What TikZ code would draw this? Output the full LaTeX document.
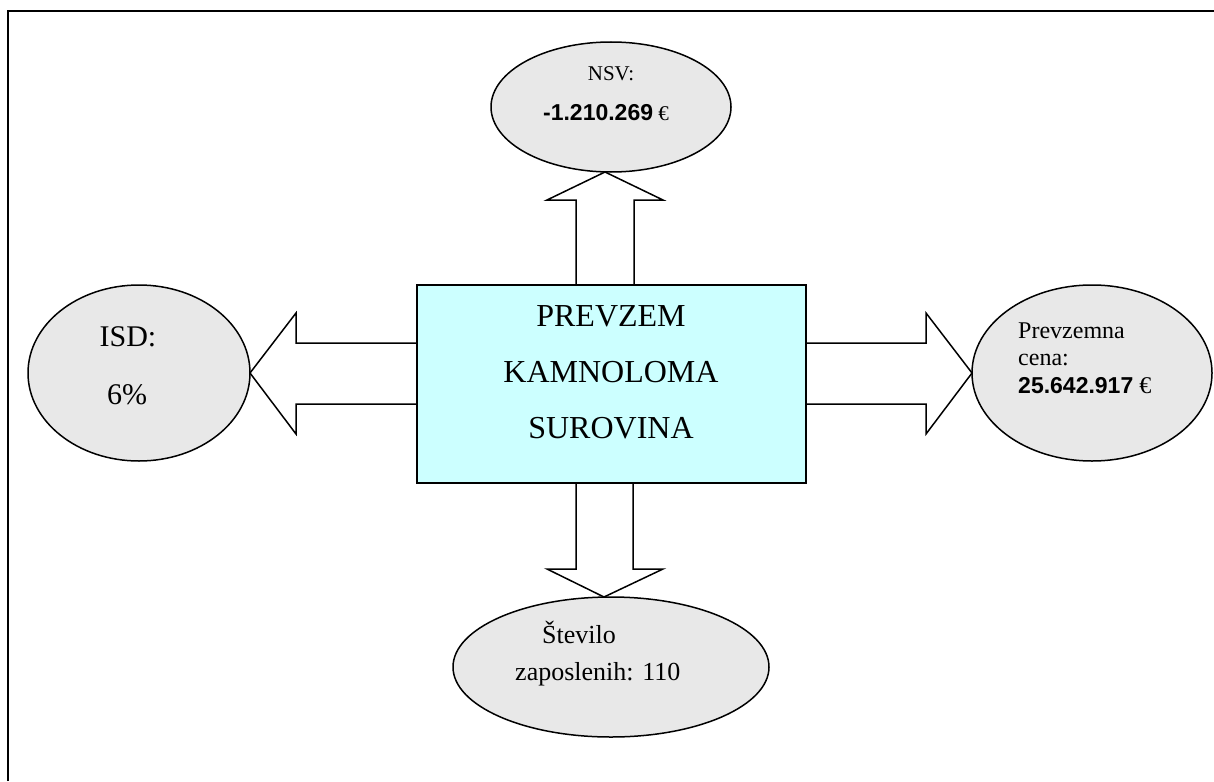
\documentclass[tikz,border=0pt]{standalone}
\usepackage{fontspec}
\setmainfont{Liberation Serif}
\newfontfamily\arialfont{Liberation Sans}
\usetikzlibrary{shapes.geometric}
\definecolor{boxcyan}{HTML}{CCFFFF}
\definecolor{ellgray}{HTML}{E8E8E8}
\begin{document}
\begin{tikzpicture}[x=1pt,y=-1pt,
  frame/.style={line width=2.2pt},
  mainbox/.style={draw=black,line width=1.8pt,fill=boxcyan,minimum width=389pt,minimum height=198pt,inner sep=0pt},
  oval/.style={ellipse,draw=black,line width=1.5pt,fill=ellgray,inner sep=0pt},
  blockarrow/.style={draw=black,line width=1.5pt,fill=white,line join=miter},
  txt/.style={inner sep=0pt,font=\fontsize{#1}{#1}\selectfont},
]
\useasboundingbox (0,0) rectangle (1214,781);
\draw[frame] (8,781) -- (8,11) -- (1214,11);

% block arrows (drawn first, box and ellipses cover their ends)
\coordinate (tipN) at (605,172);
\coordinate (tipW) at (250,373);
\coordinate (tipE) at (972,373);
\coordinate (tipS) at (604,597);
\draw[blockarrow] (576,300) -- (576,200) -- (547,200) -- (tipN) -- (663,200) -- (634,200) -- (634,300) -- cycle;
\draw[blockarrow] (430,343) -- (296,343) -- (296,313) -- (tipW) -- (296,434) -- (296,404) -- (430,404) -- cycle;
\draw[blockarrow] (790,343) -- (926,343) -- (926,313) -- (tipE) -- (926,434) -- (926,404) -- (790,404) -- cycle;
\draw[blockarrow] (576,470) -- (576,569) -- (547,569) -- (tipS) -- (663,569) -- (633,569) -- (633,470) -- cycle;

% central box
\node[mainbox] (box) at (611.5,384) {};
\node[txt=32] (t1) at (611,316) {PREVZEM};
\node[txt=32] (t2) at (611,372) {KAMNOLOMA};
\node[txt=32] (t3) at (611,428) {SUROVINA};

% ellipses
\node[oval,minimum width=240pt,minimum height=130pt] (nsv) at (611,107) {};
\node[oval,minimum width=222pt,minimum height=176pt] (isd) at (139,373) {};
\node[oval,minimum width=240pt,minimum height=176pt] (cena) at (1092,373) {};
\node[oval,minimum width=316pt,minimum height=140pt] (zap) at (611,667) {};

% texts
\node[txt=21] (nsvA) at (611,74) {NSV:};
\node[txt=21] (nsvB) at (606,113) {{\arialfont\bfseries\fontsize{23}{23}\selectfont -1.210.269} €};
\node[txt=30] (isdA) at (128,337) {ISD:};
\node[txt=30] (isdB) at (127,395) {6\%};
\node[txt=24,anchor=mid west] (cA) at (1018,336) {Prevzemna};
\node[txt=24,anchor=mid west] (cB) at (1018,363) {cena:};
\node[txt=24,anchor=mid west] (cC) at (1018,391) {{\arialfont\bfseries\fontsize{23}{23}\selectfont 25.642.917} €};
\node[txt=26,anchor=mid west] (zA) at (542,641) {Število};
\node[txt=26,anchor=mid west] (zB) at (515,678) {zaposlenih: 110};
\end{tikzpicture}
\end{document}
